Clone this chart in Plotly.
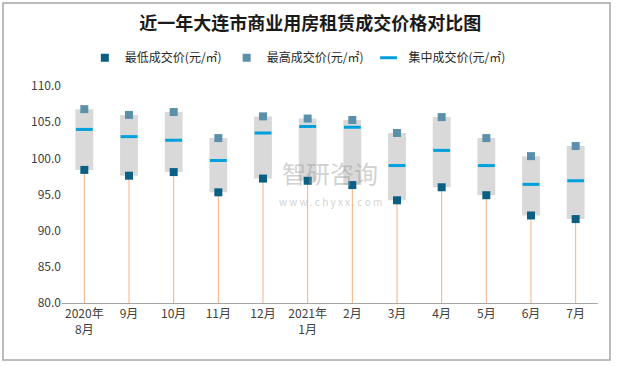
import plotly.graph_objects as go

categories = ["2020年<br>8月", "9月", "10月", "11月", "12月", "2021年<br>1月",
              "2月", "3月", "4月", "5月", "6月", "7月"]
min_price = [98.4, 97.6, 98.1, 95.3, 97.2, 96.9, 96.3, 94.2, 96.0, 94.9, 92.1, 91.6]
max_price = [106.8, 106.0, 106.4, 102.8, 105.8, 105.5, 105.3, 103.5, 105.7, 102.8, 100.3, 101.7]
mid_price = [104.0, 103.0, 102.5, 99.7, 103.5, 104.4, 104.3, 99.0, 101.1, 99.0, 96.4, 96.9]
y_floor = 80

font_cn = "Noto Sans CJK SC, Microsoft YaHei, sans-serif"

fig = go.Figure()

# gray range boxes (min -> max)
fig.add_trace(go.Bar(
    x=categories, y=[hi - lo for hi, lo in zip(max_price, min_price)], base=min_price,
    width=0.4, marker=dict(color="#d9d9d9", line=dict(width=0)),
    showlegend=False, hoverinfo="skip"))

# orange drop lines from axis to min
lx, ly = [], []
for c, lo in zip(categories, min_price):
    lx += [c, c, None]
    ly += [y_floor, lo, None]
fig.add_trace(go.Scatter(x=lx, y=ly, mode="lines", line=dict(color="#f4b183", width=1),
                         showlegend=False, hoverinfo="skip"))

fig.add_trace(go.Scatter(
    x=categories, y=min_price, mode="markers", name="最低成交价(元/㎡)",
    marker=dict(symbol="square", size=8, color="#0b5f82")))
fig.add_trace(go.Scatter(
    x=categories, y=max_price, mode="markers", name="最高成交价(元/㎡)",
    marker=dict(symbol="square", size=8, color="#5a90aa")))
fig.add_trace(go.Scatter(
    x=categories, y=mid_price, mode="markers", name="集中成交价(元/㎡)",
    marker=dict(symbol="line-ew", size=12, color="#00a0dc",
                line=dict(color="#00a0dc", width=3))))

fig.update_layout(
    width=617, height=366,
    margin=dict(l=62, r=19, t=86, b=63, autoexpand=False),
    paper_bgcolor="white", plot_bgcolor="white",
    title=dict(text="<b>近一年大连市商业用房租赁成交价格对比图</b>",
               x=0.503, xanchor="center", y=0.935, yanchor="middle",
               font=dict(family=font_cn, size=18, color="#1a1a1a")),
    legend=dict(orientation="h", x=0.44, xanchor="center", y=1.13, yanchor="middle",
                font=dict(family=font_cn, size=12, color="#262626"),
                itemwidth=30, traceorder="normal", bgcolor="rgba(0,0,0,0)"),
    xaxis=dict(type="category", range=[-0.5, 11.5], showgrid=False, automargin=False,
               showline=True, linecolor="#a6a6a6", linewidth=1, ticks="",
               tickfont=dict(family=font_cn, size=12, color="#404040")),
    yaxis=dict(range=[80, 110], dtick=5, tickformat=".1f", showgrid=False, automargin=False,
               showline=False, zeroline=False, ticks="",
               tickfont=dict(family=font_cn, size=12, color="#404040")),
    bargap=0.6,
    shapes=[dict(type="rect", xref="paper", yref="paper",
                 x0=-59/536, x1=1 + 12/536, y0=-57/217, y1=1 + 83/217,
                 line=dict(color="#a6a6a6", width=1.5), fillcolor="rgba(0,0,0,0)",
                 layer="below")],
    annotations=[
        dict(text="智研咨询", xref="paper", yref="paper", x=0.5, y=0.6,
             xanchor="center", yanchor="middle", showarrow=False,
             font=dict(family=font_cn, size=24, color="rgba(150,150,150,0.45)")),
        dict(text="w w w . c h y x x . c o m", xref="paper", yref="paper", x=0.5, y=0.47,
             xanchor="center", yanchor="middle", showarrow=False,
             font=dict(family=font_cn, size=10, color="rgba(150,150,150,0.45)")),
    ],
)

fig.write_html("out.html", config={"displayModeBar": False},
               post_script="document.body.style.margin='0';")
